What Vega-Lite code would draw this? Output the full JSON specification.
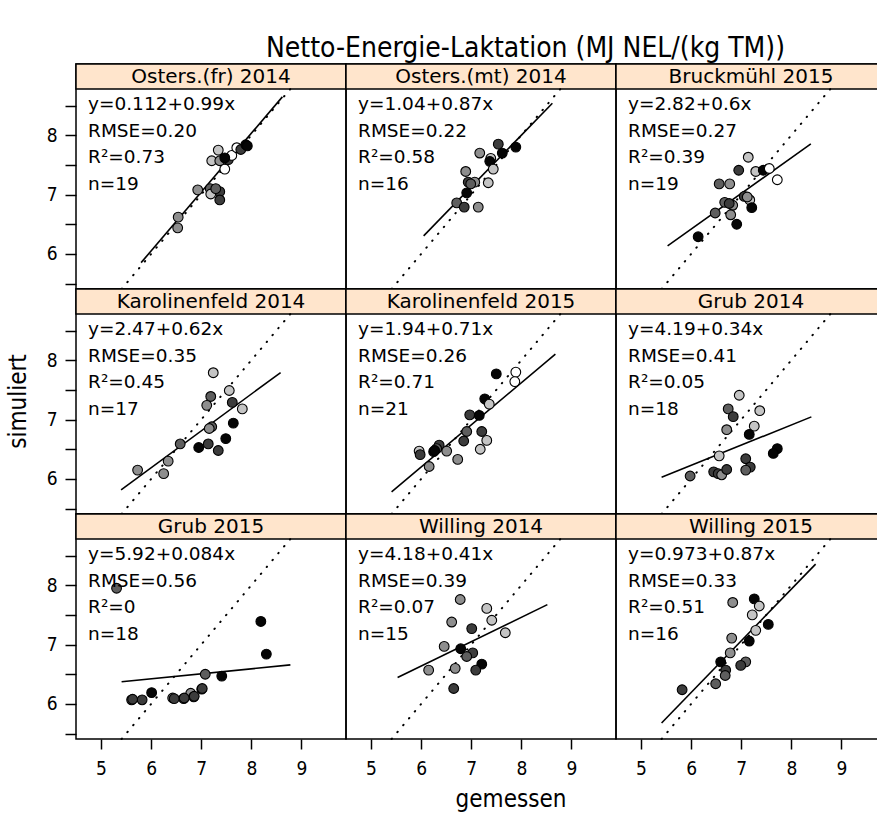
{
  "$schema": "https://vega.github.io/schema/vega-lite/v6.json",
  "padding": {"left": 7, "top": 34, "right": 0, "bottom": 0},
  "background": "white",
  "title": {"text": "Netto-Energie-Laktation (MJ NEL/(kg TM))", "font": "DejaVu Sans Condensed, Liberation Sans Narrow, DejaVu Sans", "fontSize": 28, "fontWeight": "normal", "color": "black", "anchor": "middle", "dx": 49, "offset": 0},
  "datasets": {
    "ylab": [{"t": "simuliert"}],
    "xlab": [{"t": "gemessen"}],
    "main": [
      {"site": "Osters.(fr) 2014", "kind": "s", "label": "y=0.112+0.99x\nRMSE=0.20\nR²=0.73\nn=19"},
      {"site": "Osters.(mt) 2014", "kind": "s", "label": "y=1.04+0.87x\nRMSE=0.22\nR²=0.58\nn=16"},
      {"site": "Bruckmühl 2015", "kind": "s", "label": "y=2.82+0.6x\nRMSE=0.27\nR²=0.39\nn=19"},
      {"site": "Karolinenfeld 2014", "kind": "s", "label": "y=2.47+0.62x\nRMSE=0.35\nR²=0.45\nn=17"},
      {"site": "Karolinenfeld 2015", "kind": "s", "label": "y=1.94+0.71x\nRMSE=0.26\nR²=0.71\nn=21"},
      {"site": "Grub 2014", "kind": "s", "label": "y=4.19+0.34x\nRMSE=0.41\nR²=0.05\nn=18"},
      {"site": "Grub 2015", "kind": "s", "label": "y=5.92+0.084x\nRMSE=0.56\nR²=0\nn=18"},
      {"site": "Willing 2014", "kind": "s", "label": "y=4.18+0.41x\nRMSE=0.39\nR²=0.07\nn=15"},
      {"site": "Willing 2015", "kind": "s", "label": "y=0.973+0.87x\nRMSE=0.33\nR²=0.51\nn=16"},

      {"site": "Osters.(fr) 2014", "kind": "f", "x": 5.80, "y": 5.854},
      {"site": "Osters.(fr) 2014", "kind": "f", "x": 8.62, "y": 8.646},
      {"site": "Osters.(mt) 2014", "kind": "f", "x": 6.05, "y": 6.304},
      {"site": "Osters.(mt) 2014", "kind": "f", "x": 8.62, "y": 8.539},
      {"site": "Bruckmühl 2015", "kind": "f", "x": 5.53, "y": 6.138},
      {"site": "Bruckmühl 2015", "kind": "f", "x": 8.39, "y": 7.854},
      {"site": "Karolinenfeld 2014", "kind": "f", "x": 5.40, "y": 5.818},
      {"site": "Karolinenfeld 2014", "kind": "f", "x": 8.585, "y": 7.793},
      {"site": "Karolinenfeld 2015", "kind": "f", "x": 5.41, "y": 5.781},
      {"site": "Karolinenfeld 2015", "kind": "f", "x": 8.68, "y": 8.103},
      {"site": "Grub 2014", "kind": "f", "x": 5.41, "y": 6.029},
      {"site": "Grub 2014", "kind": "f", "x": 8.40, "y": 7.046},
      {"site": "Grub 2015", "kind": "f", "x": 5.41, "y": 6.374},
      {"site": "Grub 2015", "kind": "f", "x": 8.78, "y": 6.658},
      {"site": "Willing 2014", "kind": "f", "x": 5.53, "y": 6.447},
      {"site": "Willing 2014", "kind": "f", "x": 8.52, "y": 7.673},
      {"site": "Willing 2015", "kind": "f", "x": 5.41, "y": 5.680},
      {"site": "Willing 2015", "kind": "f", "x": 8.485, "y": 8.355},

      {"site": "Osters.(fr) 2014", "kind": "p", "x": 6.54, "y": 6.62, "cut": 4},
      {"site": "Osters.(fr) 2014", "kind": "p", "x": 6.53, "y": 6.44, "cut": 4},
      {"site": "Osters.(fr) 2014", "kind": "p", "x": 6.93, "y": 7.08, "cut": 4},
      {"site": "Osters.(fr) 2014", "kind": "p", "x": 7.18, "y": 7.10, "cut": 3},
      {"site": "Osters.(fr) 2014", "kind": "p", "x": 7.19, "y": 7.01, "cut": 5},
      {"site": "Osters.(fr) 2014", "kind": "p", "x": 7.37, "y": 7.05, "cut": 2},
      {"site": "Osters.(fr) 2014", "kind": "p", "x": 7.37, "y": 6.91, "cut": 2},
      {"site": "Osters.(fr) 2014", "kind": "p", "x": 7.34, "y": 7.75, "cut": 5},
      {"site": "Osters.(fr) 2014", "kind": "p", "x": 7.21, "y": 7.57, "cut": 5},
      {"site": "Osters.(fr) 2014", "kind": "p", "x": 7.37, "y": 7.57, "cut": 4},
      {"site": "Osters.(fr) 2014", "kind": "p", "x": 7.47, "y": 7.43, "cut": 6},
      {"site": "Osters.(fr) 2014", "kind": "p", "x": 7.54, "y": 7.59, "cut": 2},
      {"site": "Osters.(fr) 2014", "kind": "p", "x": 7.61, "y": 7.66, "cut": 6},
      {"site": "Osters.(fr) 2014", "kind": "p", "x": 7.71, "y": 7.79, "cut": 6},
      {"site": "Osters.(fr) 2014", "kind": "p", "x": 7.79, "y": 7.76, "cut": 2},
      {"site": "Osters.(fr) 2014", "kind": "p", "x": 7.89, "y": 7.84, "cut": 1},
      {"site": "Osters.(fr) 2014", "kind": "p", "x": 7.92, "y": 7.82, "cut": 1},
      {"site": "Osters.(fr) 2014", "kind": "p", "x": 7.47, "y": 7.62, "cut": 1},
      {"site": "Osters.(fr) 2014", "kind": "p", "x": 7.29, "y": 7.10, "cut": 3},

      {"site": "Osters.(mt) 2014", "kind": "p", "x": 7.17, "y": 7.70, "cut": 4},
      {"site": "Osters.(mt) 2014", "kind": "p", "x": 7.54, "y": 7.85, "cut": 2},
      {"site": "Osters.(mt) 2014", "kind": "p", "x": 7.89, "y": 7.80, "cut": 1},
      {"site": "Osters.(mt) 2014", "kind": "p", "x": 7.62, "y": 7.70, "cut": 1},
      {"site": "Osters.(mt) 2014", "kind": "p", "x": 7.39, "y": 7.61, "cut": 5},
      {"site": "Osters.(mt) 2014", "kind": "p", "x": 7.37, "y": 7.56, "cut": 1},
      {"site": "Osters.(mt) 2014", "kind": "p", "x": 7.44, "y": 7.43, "cut": 5},
      {"site": "Osters.(mt) 2014", "kind": "p", "x": 6.89, "y": 7.39, "cut": 4},
      {"site": "Osters.(mt) 2014", "kind": "p", "x": 6.94, "y": 7.21, "cut": 2},
      {"site": "Osters.(mt) 2014", "kind": "p", "x": 7.07, "y": 7.21, "cut": 4},
      {"site": "Osters.(mt) 2014", "kind": "p", "x": 7.34, "y": 7.20, "cut": 5},
      {"site": "Osters.(mt) 2014", "kind": "p", "x": 6.91, "y": 7.03, "cut": 1},
      {"site": "Osters.(mt) 2014", "kind": "p", "x": 6.71, "y": 6.86, "cut": 3},
      {"site": "Osters.(mt) 2014", "kind": "p", "x": 6.86, "y": 6.79, "cut": 2},
      {"site": "Osters.(mt) 2014", "kind": "p", "x": 7.14, "y": 6.79, "cut": 4},
      {"site": "Osters.(mt) 2014", "kind": "p", "x": 6.99, "y": 7.18, "cut": 3},

      {"site": "Bruckmühl 2015", "kind": "p", "x": 7.14, "y": 7.63, "cut": 5},
      {"site": "Bruckmühl 2015", "kind": "p", "x": 6.95, "y": 7.41, "cut": 2},
      {"site": "Bruckmühl 2015", "kind": "p", "x": 6.56, "y": 7.18, "cut": 3},
      {"site": "Bruckmühl 2015", "kind": "p", "x": 6.77, "y": 7.18, "cut": 4},
      {"site": "Bruckmühl 2015", "kind": "p", "x": 7.29, "y": 7.39, "cut": 5},
      {"site": "Bruckmühl 2015", "kind": "p", "x": 7.44, "y": 7.41, "cut": 1},
      {"site": "Bruckmühl 2015", "kind": "p", "x": 7.56, "y": 7.44, "cut": 6},
      {"site": "Bruckmühl 2015", "kind": "p", "x": 7.72, "y": 7.25, "cut": 6},
      {"site": "Bruckmühl 2015", "kind": "p", "x": 7.06, "y": 6.97, "cut": 2},
      {"site": "Bruckmühl 2015", "kind": "p", "x": 7.17, "y": 6.91, "cut": 5},
      {"site": "Bruckmühl 2015", "kind": "p", "x": 7.21, "y": 6.78, "cut": 1},
      {"site": "Bruckmühl 2015", "kind": "p", "x": 6.67, "y": 6.87, "cut": 3},
      {"site": "Bruckmühl 2015", "kind": "p", "x": 6.83, "y": 6.82, "cut": 4},
      {"site": "Bruckmühl 2015", "kind": "p", "x": 6.48, "y": 6.69, "cut": 3},
      {"site": "Bruckmühl 2015", "kind": "p", "x": 6.79, "y": 6.66, "cut": 4},
      {"site": "Bruckmühl 2015", "kind": "p", "x": 6.91, "y": 6.50, "cut": 1},
      {"site": "Bruckmühl 2015", "kind": "p", "x": 6.14, "y": 6.29, "cut": 1},
      {"site": "Bruckmühl 2015", "kind": "p", "x": 6.76, "y": 6.85, "cut": 2},
      {"site": "Bruckmühl 2015", "kind": "p", "x": 7.12, "y": 6.96, "cut": 4},

      {"site": "Karolinenfeld 2014", "kind": "p", "x": 7.24, "y": 7.79, "cut": 5},
      {"site": "Karolinenfeld 2014", "kind": "p", "x": 7.56, "y": 7.49, "cut": 5},
      {"site": "Karolinenfeld 2014", "kind": "p", "x": 7.19, "y": 7.39, "cut": 3},
      {"site": "Karolinenfeld 2014", "kind": "p", "x": 7.11, "y": 7.24, "cut": 4},
      {"site": "Karolinenfeld 2014", "kind": "p", "x": 7.62, "y": 7.29, "cut": 2},
      {"site": "Karolinenfeld 2014", "kind": "p", "x": 7.82, "y": 7.18, "cut": 5},
      {"site": "Karolinenfeld 2014", "kind": "p", "x": 7.64, "y": 6.94, "cut": 1},
      {"site": "Karolinenfeld 2014", "kind": "p", "x": 7.21, "y": 6.88, "cut": 3},
      {"site": "Karolinenfeld 2014", "kind": "p", "x": 7.16, "y": 6.85, "cut": 4},
      {"site": "Karolinenfeld 2014", "kind": "p", "x": 7.49, "y": 6.68, "cut": 1},
      {"site": "Karolinenfeld 2014", "kind": "p", "x": 6.58, "y": 6.59, "cut": 3},
      {"site": "Karolinenfeld 2014", "kind": "p", "x": 6.95, "y": 6.53, "cut": 1},
      {"site": "Karolinenfeld 2014", "kind": "p", "x": 7.14, "y": 6.59, "cut": 2},
      {"site": "Karolinenfeld 2014", "kind": "p", "x": 7.34, "y": 6.48, "cut": 2},
      {"site": "Karolinenfeld 2014", "kind": "p", "x": 6.34, "y": 6.30, "cut": 4},
      {"site": "Karolinenfeld 2014", "kind": "p", "x": 5.73, "y": 6.15, "cut": 4},
      {"site": "Karolinenfeld 2014", "kind": "p", "x": 6.25, "y": 6.09, "cut": 4},

      {"site": "Karolinenfeld 2015", "kind": "p", "x": 7.50, "y": 7.77, "cut": 1},
      {"site": "Karolinenfeld 2015", "kind": "p", "x": 7.89, "y": 7.80, "cut": 6},
      {"site": "Karolinenfeld 2015", "kind": "p", "x": 7.87, "y": 7.64, "cut": 6},
      {"site": "Karolinenfeld 2015", "kind": "p", "x": 7.27, "y": 7.35, "cut": 1},
      {"site": "Karolinenfeld 2015", "kind": "p", "x": 7.36, "y": 7.26, "cut": 5},
      {"site": "Karolinenfeld 2015", "kind": "p", "x": 6.97, "y": 7.08, "cut": 2},
      {"site": "Karolinenfeld 2015", "kind": "p", "x": 7.16, "y": 7.07, "cut": 1},
      {"site": "Karolinenfeld 2015", "kind": "p", "x": 6.91, "y": 6.80, "cut": 3},
      {"site": "Karolinenfeld 2015", "kind": "p", "x": 7.21, "y": 6.80, "cut": 2},
      {"site": "Karolinenfeld 2015", "kind": "p", "x": 6.85, "y": 6.64, "cut": 2},
      {"site": "Karolinenfeld 2015", "kind": "p", "x": 7.31, "y": 6.65, "cut": 5},
      {"site": "Karolinenfeld 2015", "kind": "p", "x": 7.18, "y": 6.50, "cut": 5},
      {"site": "Karolinenfeld 2015", "kind": "p", "x": 5.96, "y": 6.47, "cut": 5},
      {"site": "Karolinenfeld 2015", "kind": "p", "x": 5.98, "y": 6.41, "cut": 2},
      {"site": "Karolinenfeld 2015", "kind": "p", "x": 6.36, "y": 6.57, "cut": 2},
      {"site": "Karolinenfeld 2015", "kind": "p", "x": 6.31, "y": 6.51, "cut": 3},
      {"site": "Karolinenfeld 2015", "kind": "p", "x": 6.25, "y": 6.46, "cut": 1},
      {"site": "Karolinenfeld 2015", "kind": "p", "x": 6.51, "y": 6.47, "cut": 4},
      {"site": "Karolinenfeld 2015", "kind": "p", "x": 6.73, "y": 6.33, "cut": 4},
      {"site": "Karolinenfeld 2015", "kind": "p", "x": 6.16, "y": 6.21, "cut": 4},
      {"site": "Karolinenfeld 2015", "kind": "p", "x": 6.27, "y": 6.48, "cut": 1},

      {"site": "Grub 2014", "kind": "p", "x": 6.96, "y": 7.41, "cut": 5},
      {"site": "Grub 2014", "kind": "p", "x": 6.74, "y": 7.18, "cut": 3},
      {"site": "Grub 2014", "kind": "p", "x": 6.84, "y": 7.05, "cut": 2},
      {"site": "Grub 2014", "kind": "p", "x": 7.37, "y": 7.15, "cut": 5},
      {"site": "Grub 2014", "kind": "p", "x": 7.26, "y": 6.89, "cut": 5},
      {"site": "Grub 2014", "kind": "p", "x": 7.16, "y": 6.75, "cut": 1},
      {"site": "Grub 2014", "kind": "p", "x": 6.71, "y": 6.83, "cut": 4},
      {"site": "Grub 2014", "kind": "p", "x": 6.56, "y": 6.39, "cut": 5},
      {"site": "Grub 2014", "kind": "p", "x": 7.72, "y": 6.51, "cut": 1},
      {"site": "Grub 2014", "kind": "p", "x": 7.64, "y": 6.43, "cut": 1},
      {"site": "Grub 2014", "kind": "p", "x": 7.09, "y": 6.34, "cut": 2},
      {"site": "Grub 2014", "kind": "p", "x": 7.18, "y": 6.20, "cut": 2},
      {"site": "Grub 2014", "kind": "p", "x": 7.09, "y": 6.15, "cut": 3},
      {"site": "Grub 2014", "kind": "p", "x": 5.98, "y": 6.05, "cut": 3},
      {"site": "Grub 2014", "kind": "p", "x": 6.45, "y": 6.12, "cut": 2},
      {"site": "Grub 2014", "kind": "p", "x": 6.54, "y": 6.09, "cut": 2},
      {"site": "Grub 2014", "kind": "p", "x": 6.61, "y": 6.07, "cut": 4},
      {"site": "Grub 2014", "kind": "p", "x": 6.71, "y": 6.16, "cut": 2},

      {"site": "Grub 2015", "kind": "p", "x": 5.31, "y": 7.95, "cut": 3},
      {"site": "Grub 2015", "kind": "p", "x": 8.19, "y": 7.39, "cut": 1},
      {"site": "Grub 2015", "kind": "p", "x": 8.30, "y": 6.84, "cut": 1},
      {"site": "Grub 2015", "kind": "p", "x": 7.08, "y": 6.50, "cut": 3},
      {"site": "Grub 2015", "kind": "p", "x": 7.41, "y": 6.47, "cut": 1},
      {"site": "Grub 2015", "kind": "p", "x": 7.01, "y": 6.25, "cut": 1},
      {"site": "Grub 2015", "kind": "p", "x": 6.01, "y": 6.19, "cut": 1},
      {"site": "Grub 2015", "kind": "p", "x": 5.61, "y": 6.07, "cut": 3},
      {"site": "Grub 2015", "kind": "p", "x": 5.82, "y": 6.07, "cut": 2},
      {"site": "Grub 2015", "kind": "p", "x": 6.43, "y": 6.10, "cut": 4},
      {"site": "Grub 2015", "kind": "p", "x": 6.65, "y": 6.09, "cut": 2},
      {"site": "Grub 2015", "kind": "p", "x": 6.79, "y": 6.18, "cut": 4},
      {"site": "Grub 2015", "kind": "p", "x": 6.85, "y": 6.12, "cut": 2},
      {"site": "Grub 2015", "kind": "p", "x": 5.63, "y": 6.08, "cut": 2},
      {"site": "Grub 2015", "kind": "p", "x": 6.46, "y": 6.09, "cut": 2},
      {"site": "Grub 2015", "kind": "p", "x": 6.66, "y": 6.10, "cut": 2},
      {"site": "Grub 2015", "kind": "p", "x": 6.86, "y": 6.13, "cut": 2},
      {"site": "Grub 2015", "kind": "p", "x": 7.02, "y": 6.26, "cut": 2},

      {"site": "Willing 2014", "kind": "p", "x": 6.78, "y": 7.76, "cut": 4},
      {"site": "Willing 2014", "kind": "p", "x": 7.31, "y": 7.61, "cut": 5},
      {"site": "Willing 2014", "kind": "p", "x": 6.61, "y": 7.38, "cut": 4},
      {"site": "Willing 2014", "kind": "p", "x": 7.41, "y": 7.41, "cut": 5},
      {"site": "Willing 2014", "kind": "p", "x": 7.01, "y": 7.27, "cut": 2},
      {"site": "Willing 2014", "kind": "p", "x": 7.68, "y": 7.20, "cut": 5},
      {"site": "Willing 2014", "kind": "p", "x": 6.46, "y": 6.97, "cut": 4},
      {"site": "Willing 2014", "kind": "p", "x": 6.79, "y": 6.93, "cut": 1},
      {"site": "Willing 2014", "kind": "p", "x": 7.03, "y": 6.86, "cut": 2},
      {"site": "Willing 2014", "kind": "p", "x": 6.91, "y": 6.80, "cut": 3},
      {"site": "Willing 2014", "kind": "p", "x": 7.21, "y": 6.67, "cut": 1},
      {"site": "Willing 2014", "kind": "p", "x": 7.09, "y": 6.57, "cut": 2},
      {"site": "Willing 2014", "kind": "p", "x": 6.68, "y": 6.60, "cut": 4},
      {"site": "Willing 2014", "kind": "p", "x": 6.15, "y": 6.57, "cut": 4},
      {"site": "Willing 2014", "kind": "p", "x": 6.65, "y": 6.26, "cut": 2},

      {"site": "Willing 2015", "kind": "p", "x": 6.83, "y": 7.71, "cut": 4},
      {"site": "Willing 2015", "kind": "p", "x": 7.26, "y": 7.77, "cut": 1},
      {"site": "Willing 2015", "kind": "p", "x": 7.36, "y": 7.65, "cut": 5},
      {"site": "Willing 2015", "kind": "p", "x": 7.22, "y": 7.50, "cut": 5},
      {"site": "Willing 2015", "kind": "p", "x": 7.54, "y": 7.34, "cut": 1},
      {"site": "Willing 2015", "kind": "p", "x": 7.29, "y": 7.24, "cut": 5},
      {"site": "Willing 2015", "kind": "p", "x": 7.16, "y": 7.06, "cut": 1},
      {"site": "Willing 2015", "kind": "p", "x": 6.81, "y": 7.11, "cut": 4},
      {"site": "Willing 2015", "kind": "p", "x": 6.78, "y": 6.86, "cut": 4},
      {"site": "Willing 2015", "kind": "p", "x": 6.59, "y": 6.71, "cut": 1},
      {"site": "Willing 2015", "kind": "p", "x": 7.09, "y": 6.71, "cut": 3},
      {"site": "Willing 2015", "kind": "p", "x": 6.99, "y": 6.65, "cut": 2},
      {"site": "Willing 2015", "kind": "p", "x": 6.69, "y": 6.57, "cut": 2},
      {"site": "Willing 2015", "kind": "p", "x": 6.68, "y": 6.48, "cut": 3},
      {"site": "Willing 2015", "kind": "p", "x": 6.49, "y": 6.34, "cut": 3},
      {"site": "Willing 2015", "kind": "p", "x": 5.82, "y": 6.24, "cut": 2}
    ]
  },
  "spacing": 15,
  "hconcat": [
    {
      "data": {"name": "ylab"},
      "width": 22,
      "height": 675,
      "view": {"stroke": null},
      "mark": {"type": "text", "angle": 270, "font": "DejaVu Sans Condensed, Liberation Sans Narrow, DejaVu Sans", "fontSize": 24, "color": "black", "baseline": "middle", "align": "center"},
      "encoding": {"text": {"field": "t", "type": "nominal"}}
    },
    {
      "spacing": 7,
      "vconcat": [
        {
          "data": {"name": "main"},
          "columns": 3,
          "spacing": 0,
          "bounds": "flush",
          "facet": {
            "field": "site",
            "type": "nominal",
            "sort": ["Osters.(fr) 2014", "Osters.(mt) 2014", "Bruckmühl 2015", "Karolinenfeld 2014", "Karolinenfeld 2015", "Grub 2014", "Grub 2015", "Willing 2014", "Willing 2015"],
            "header": {"title": null, "labels": false, "labelFontSize": 0, "labelPadding": 0, "labelExpr": "''"}
          },
          "spec": {
            "width": 270,
            "height": 225,
            "resolve": {"axis": {"y": "independent"}},
            "layer": [
              {
                "transform": [{"filter": "datum.kind == 's'"}],
                "mark": {"type": "rect", "fill": "#ffe5cc", "stroke": "black", "strokeWidth": 1.5},
                "encoding": {
                  "x": {"datum": 4.5, "type": "quantitative", "scale": {"domain": [4.5, 9.89], "nice": false, "zero": false},
                        "axis": {"values": [5, 6, 7, 8, 9], "title": null, "tickSize": 10, "labelPadding": 10, "labelOverlap": false}},
                  "x2": {"datum": 9.89},
                  "y": {"datum": 8.78, "type": "quantitative", "scale": {"domain": [5.41, 9.2], "nice": false, "zero": false},
                        "axis": {"values": [6, 7, 8], "orient": "left", "title": null, "tickSize": 11, "labelPadding": 8, "labelAngle": 0, "labelOverlap": false}},
                  "y2": {"datum": 9.2}
                }
              },
              {
                "transform": [{"filter": "datum.kind == 's'"}],
                "mark": {"type": "text", "font": "DejaVu Sans", "fontSize": 20, "color": "black", "align": "center", "baseline": "middle"},
                "encoding": {
                  "x": {"datum": 7.195, "type": "quantitative"},
                  "y": {"datum": 8.985, "type": "quantitative", "axis": null},
                  "text": {"field": "site", "type": "nominal"}
                }
              },
              {
                "transform": [{"filter": "datum.kind == 's'"}],
                "mark": {"type": "rule", "color": "black", "strokeWidth": 2, "strokeDash": [0.5, 8.5], "strokeCap": "round"},
                "encoding": {
                  "x": {"datum": 5.41, "type": "quantitative"},
                  "y": {"datum": 5.41, "type": "quantitative", "axis": null},
                  "x2": {"datum": 8.78},
                  "y2": {"datum": 8.78}
                }
              },
              {
                "transform": [{"filter": "datum.kind == 'f'"}],
                "mark": {"type": "line", "color": "black", "strokeWidth": 1.6},
                "encoding": {
                  "x": {"field": "x", "type": "quantitative"},
                  "y": {"field": "y", "type": "quantitative", "axis": null}
                }
              },
              {
                "transform": [{"filter": "datum.kind == 'p'"}],
                "mark": {"type": "point", "shape": "circle", "filled": true, "size": 95, "stroke": "black", "strokeWidth": 1.1, "opacity": 1, "fillOpacity": 1, "strokeOpacity": 1},
                "encoding": {
                  "x": {"field": "x", "type": "quantitative"},
                  "y": {"field": "y", "type": "quantitative",
                        "axis": {"values": [5.5, 6.5, 7.5, 8.5], "orient": "left", "title": null, "tickSize": 11, "labels": false}},
                  "fill": {"field": "cut", "type": "ordinal", "legend": null,
                           "scale": {"domain": [1, 2, 3, 4, 5, 6], "range": ["#050505", "#3c3c3c", "#5e5e5e", "#8e8e8e", "#c4c4c4", "#ffffff"]}}
                }
              },
              {
                "transform": [{"filter": "datum.kind == 's'"}],
                "mark": {"type": "text", "font": "DejaVu Sans", "fontSize": 18.5, "color": "black", "align": "left", "baseline": "top", "lineBreak": "\n", "lineHeight": 26.7},
                "encoding": {
                  "x": {"datum": 4.74, "type": "quantitative"},
                  "y": {"datum": 8.68, "type": "quantitative", "axis": null},
                  "text": {"field": "label", "type": "nominal"}
                }
              }
            ]
          }
        },
        {
          "data": {"name": "xlab"},
          "width": 870,
          "height": 30,
          "view": {"stroke": null},
          "mark": {"type": "text", "font": "DejaVu Sans Condensed, Liberation Sans Narrow, DejaVu Sans", "fontSize": 24, "color": "black", "baseline": "middle", "align": "center"},
          "encoding": {"text": {"field": "t", "type": "nominal"}}
        }
      ]
    }
  ],
  "config": {
    "view": {"stroke": "black", "strokeWidth": 1.5},
    "header": {"labels": false, "title": null},
    "headerFacet": {"labels": false, "title": null},
    "axis": {"grid": false, "domain": false, "tickColor": "black", "tickWidth": 1.5, "labelColor": "black", "labelFont": "DejaVu Sans Condensed, Liberation Sans Narrow, DejaVu Sans", "labelFontSize": 19},
    "axisY": {"labelOverlap": false},
    "axisX": {"labelOverlap": false}
  }
}
